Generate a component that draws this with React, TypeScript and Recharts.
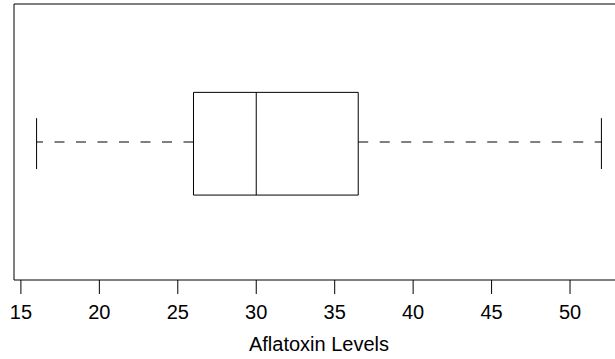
import React from "react";
import {
  ComposedChart,
  XAxis,
  YAxis,
  ReferenceArea,
  ReferenceLine,
} from "recharts";

// five-number summary
const stats = {
  min: 16,
  q1: 26,
  median: 30,
  q3: 36.5,
  max: 52,
};
const xTicks = [15, 20, 25, 30, 35, 40, 45, 50];
const axisTitle = "Aflatoxin Levels";

// R-style axis extension (4% each side)
const pad = (stats.max - stats.min) * 0.04;
const xDomain = [stats.min - pad, stats.max + pad];
const yDomain = [0.48, 1.52];

const font = "'Liberation Sans', Arial, sans-serif";

export default function App() {
  return (
    <div
      style={{
        position: "absolute",
        left: 0,
        top: 0,
        width: 615,
        height: 359,
        overflow: "hidden",
        background: "#fff",
      }}
    >
      <ComposedChart
        width={640}
        height={359}
        data={[stats]}
        margin={{ top: 4, right: 16, left: 14, bottom: 0 }}
      >
        <XAxis
          type="number"
          dataKey="median"
          domain={xDomain}
          ticks={xTicks}
          allowDataOverflow
          height={79}
          tickSize={14}
          tickMargin={11}
          axisLine={false}
          tickLine={{ stroke: "#000" }}
          tick={{ fill: "#000", fontSize: 20, fontFamily: font }}
          label={{
            value: axisTitle,
            position: "insideBottom",
            offset: 8,
            fill: "#000",
            fontSize: 20,
            fontFamily: font,
          }}
        />
        <YAxis type="number" domain={yDomain} hide allowDataOverflow />
        {/* plot frame */}
        <ReferenceArea
          x1={xDomain[0]}
          x2={xDomain[1]}
          y1={yDomain[0]}
          y2={yDomain[1]}
          fill="none"
          fillOpacity={0}
          stroke="#000"
          strokeWidth={1}
        />
        {/* whiskers */}
        <ReferenceLine
          segment={[
            { x: stats.q1, y: 1 },
            { x: stats.min, y: 1 },
          ]}
          stroke="#000"
          strokeDasharray="10 11.5"
        />
        <ReferenceLine
          segment={[
            { x: stats.q3, y: 1 },
            { x: stats.max, y: 1 },
          ]}
          stroke="#000"
          strokeDasharray="10 11.5"
        />
        <ReferenceLine
          segment={[
            { x: stats.min, y: 0.898 },
            { x: stats.min, y: 1.09 },
          ]}
          stroke="#000"
        />
        <ReferenceLine
          segment={[
            { x: stats.max, y: 0.898 },
            { x: stats.max, y: 1.09 },
          ]}
          stroke="#000"
        />
        {/* box */}
        <ReferenceArea
          x1={stats.q1}
          x2={stats.q3}
          y1={0.8}
          y2={1.187}
          fill="#fff"
          fillOpacity={1}
          stroke="#000"
          strokeWidth={1}
        />
        <ReferenceLine
          segment={[
            { x: stats.median, y: 0.8 },
            { x: stats.median, y: 1.187 },
          ]}
          stroke="#000"
          strokeWidth={1}
        />
      </ComposedChart>
    </div>
  );
}
